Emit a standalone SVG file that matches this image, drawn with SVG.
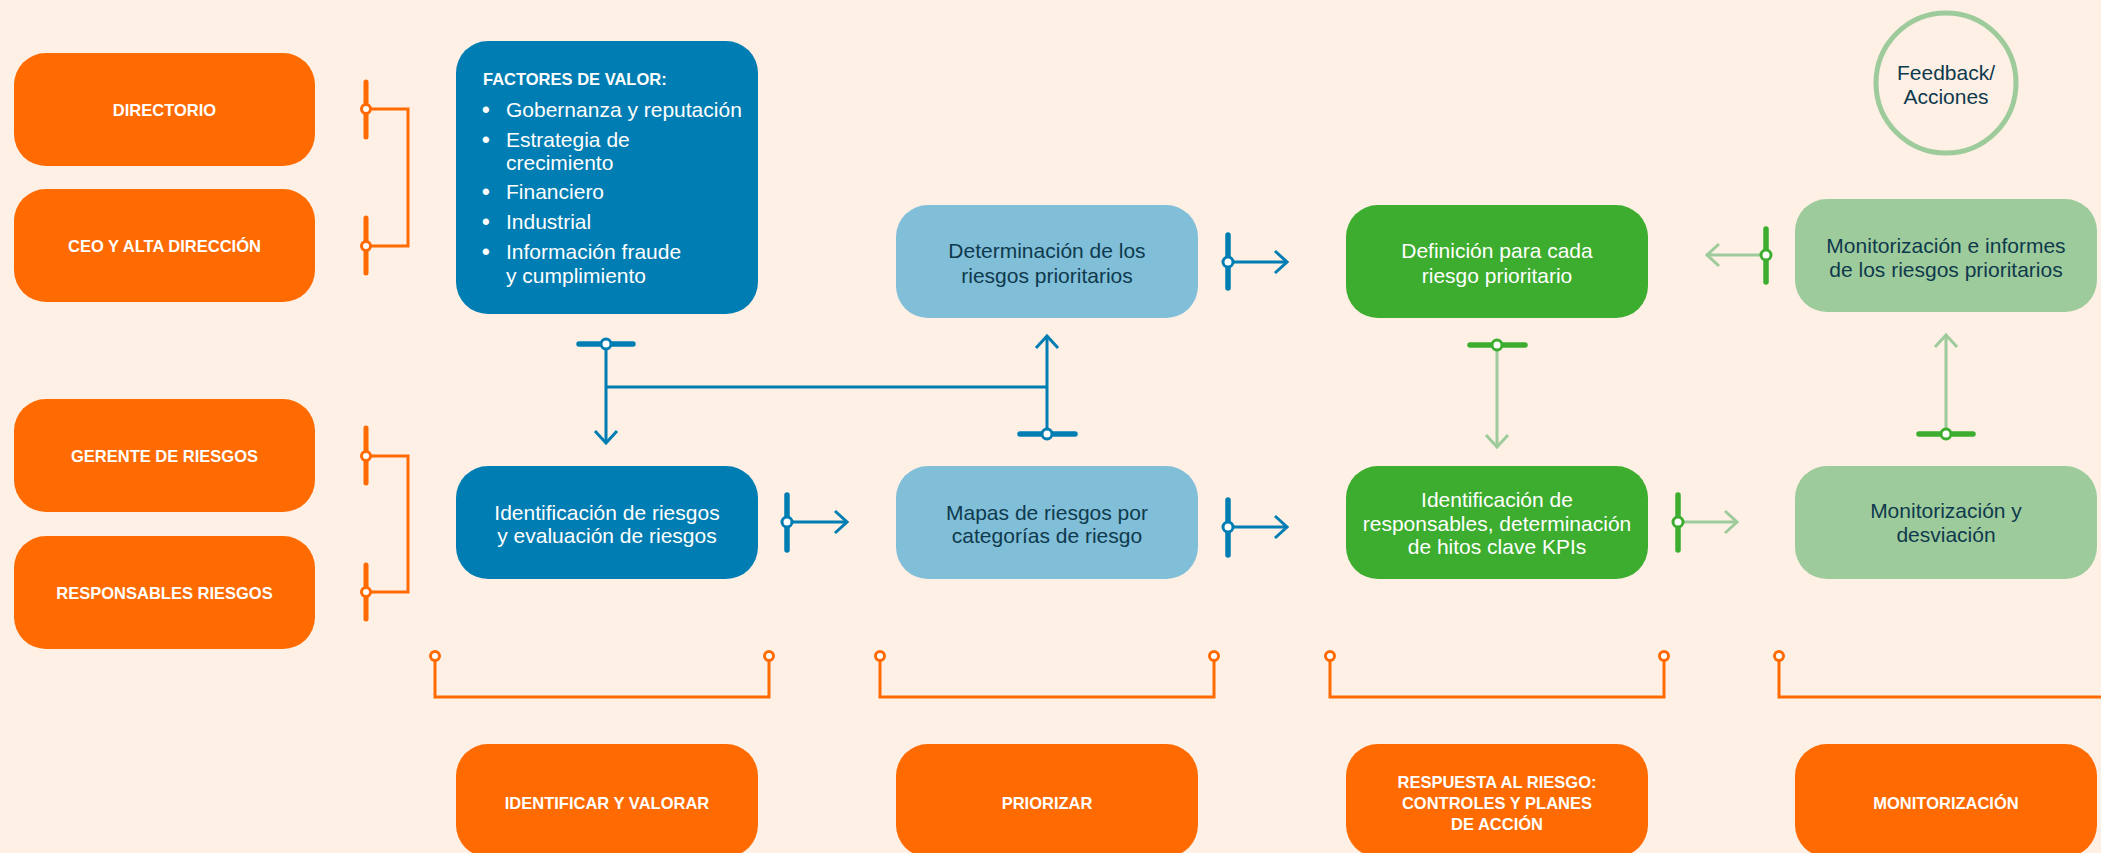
<svg xmlns="http://www.w3.org/2000/svg" width="2101" height="853" viewBox="0 0 2101 853">
<defs>
<style>
.bg{fill:#FEF0E5}
.o{fill:#FF6B00}
.db{fill:#007DB2}
.lb{fill:#81BED8}
.g{fill:#3CAD2E}
.lg{fill:#9ECB9B}
text{font-family:"Liberation Sans",Arial,sans-serif;font-size:21px;text-anchor:middle}
.w{fill:#FFFFFF}
.d{fill:#0E3A4D}
.cap{font-weight:bold;font-size:16.5px}
.st{text-anchor:start}
.bul{font-weight:bold;font-size:22px}
.lnb{stroke:#007DB2;stroke-width:3;fill:none}
.lnl{stroke:#9ECB9B;stroke-width:3;fill:none}
.lno{stroke:#FF6B00;stroke-width:3;fill:none}
.barb{stroke:#007DB2;stroke-width:5.5;stroke-linecap:round;fill:none}
.barg{stroke:#3CAD2E;stroke-width:5.5;stroke-linecap:round;fill:none}
.baro{stroke:#FF6B00;stroke-width:5;stroke-linecap:round;fill:none}
.dotb{fill:#FFFFFF;stroke:#007DB2;stroke-width:3}
.dotg{fill:#FFFFFF;stroke:#3CAD2E;stroke-width:3}
.doto{fill:#FFFFFF;stroke:#FF6B00;stroke-width:3}
</style>
<marker id="chb" markerUnits="userSpaceOnUse" viewBox="-15 -13 17 26" refX="0" refY="0" markerWidth="17" markerHeight="26" orient="auto">
<path d="M-12,-11 L0,0 L-12,11" fill="none" stroke="#007DB2" stroke-width="3"/>
</marker>
<marker id="chl" markerUnits="userSpaceOnUse" viewBox="-15 -13 17 26" refX="0" refY="0" markerWidth="17" markerHeight="26" orient="auto">
<path d="M-12,-11 L0,0 L-12,11" fill="none" stroke="#9ECB9B" stroke-width="3"/>
</marker>
</defs>
<rect class="bg" x="0" y="0" width="2101" height="853"/>

<g id="connectors">
<path class="lno" d="M366 109 H408 V246 H366"/>
<path class="baro" d="M366 82 V137 M366 218 V273"/>
<circle class="doto" cx="366" cy="109" r="4.5"/>
<circle class="doto" cx="366" cy="246" r="4.5"/>
<path class="lno" d="M366 456 H408 V592 H366"/>
<path class="baro" d="M366 428 V483 M366 565 V619"/>
<circle class="doto" cx="366" cy="456" r="4.5"/>
<circle class="doto" cx="366" cy="592" r="4.5"/>
<path class="lnb" d="M606 344 V443" marker-end="url(#chb)"/>
<path class="lnb" d="M606 387 H1047"/>
<path class="lnb" d="M1047 434 V336" marker-end="url(#chb)"/>
<path class="barb" d="M579 344 H633 M1020 434 H1075"/>
<circle class="dotb" cx="606" cy="344" r="5"/>
<circle class="dotb" cx="1047" cy="434" r="5"/>
<path class="lnb" d="M787 522 H847" marker-end="url(#chb)"/>
<path class="barb" d="M787 495 V550"/>
<circle class="dotb" cx="787" cy="522" r="5"/>
<path class="lnb" d="M1228 262 H1287" marker-end="url(#chb)"/>
<path class="barb" d="M1228 235 V288"/>
<circle class="dotb" cx="1228" cy="262" r="5"/>
<path class="lnb" d="M1228 527 H1287" marker-end="url(#chb)"/>
<path class="barb" d="M1228 500 V555"/>
<circle class="dotb" cx="1228" cy="527" r="5"/>
<path class="lnl" d="M1497 345 V447" marker-end="url(#chl)"/>
<path class="barg" d="M1470 345 H1525"/>
<circle class="dotg" cx="1497" cy="345" r="5"/>
<path class="lnl" d="M1678 522 H1737" marker-end="url(#chl)"/>
<path class="barg" d="M1678 495 V550"/>
<circle class="dotg" cx="1678" cy="522" r="5"/>
<path class="lnl" d="M1766 255 H1707" marker-end="url(#chl)"/>
<path class="barg" d="M1766 229 V282"/>
<circle class="dotg" cx="1766" cy="255" r="5"/>
<path class="lnl" d="M1946 434 V335" marker-end="url(#chl)"/>
<path class="barg" d="M1919 434 H1973"/>
<circle class="dotg" cx="1946" cy="434" r="5"/>
<path class="lno" d="M435 661 V697 H769 V661"/>
<circle class="doto" cx="435" cy="656" r="4.5"/>
<circle class="doto" cx="769" cy="656" r="4.5"/>
<path class="lno" d="M880 661 V697 H1214 V661"/>
<circle class="doto" cx="880" cy="656" r="4.5"/>
<circle class="doto" cx="1214" cy="656" r="4.5"/>
<path class="lno" d="M1330 661 V697 H1664 V661"/>
<circle class="doto" cx="1330" cy="656" r="4.5"/>
<circle class="doto" cx="1664" cy="656" r="4.5"/>
<path class="lno" d="M1779 661 V697 H2110"/>
<circle class="doto" cx="1779" cy="656" r="4.5"/>
</g>

<g id="directorio">
<rect class="o" x="14" y="53" width="301" height="113" rx="32"/>
<text class="w cap" x="164.5" y="116">DIRECTORIO</text>
</g>
<g id="ceo">
<rect class="o" x="14" y="189" width="301" height="113" rx="32"/>
<text class="w cap" x="164.5" y="252">CEO Y ALTA DIRECCIÓN</text>
</g>
<g id="gerente">
<rect class="o" x="14" y="399" width="301" height="113" rx="32"/>
<text class="w cap" x="164.5" y="462">GERENTE DE RIESGOS</text>
</g>
<g id="responsables">
<rect class="o" x="14" y="536" width="301" height="113" rx="32"/>
<text class="w cap" x="164.5" y="599">RESPONSABLES RIESGOS</text>
</g>

<g id="factores">
<rect class="db" x="456" y="41" width="302" height="273" rx="32"/>
<text class="w cap st" x="483" y="85">FACTORES DE VALOR:</text>
<text class="w st bul" x="482" y="117">•</text>
<text class="w st" x="506" y="117">Gobernanza y reputación</text>
<text class="w st bul" x="482" y="147">•</text>
<text class="w st" x="506" y="147">Estrategia de</text>
<text class="w st" x="506" y="170">crecimiento</text>
<text class="w st bul" x="482" y="199">•</text>
<text class="w st" x="506" y="199">Financiero</text>
<text class="w st bul" x="482" y="229">•</text>
<text class="w st" x="506" y="229">Industrial</text>
<text class="w st bul" x="482" y="259">•</text>
<text class="w st" x="506" y="259">Información fraude</text>
<text class="w st" x="506" y="283">y cumplimiento</text>
</g>

<g id="identificacion">
<rect class="db" x="456" y="466" width="302" height="113" rx="32"/>
<text class="w" x="607" y="520">Identificación de riesgos</text>
<text class="w" x="607" y="543">y evaluación de riesgos</text>
</g>
<g id="determinacion">
<rect class="lb" x="896" y="205" width="302" height="113" rx="32"/>
<text class="d" x="1047" y="258">Determinación de los</text>
<text class="d" x="1047" y="283">riesgos prioritarios</text>
</g>
<g id="mapas">
<rect class="lb" x="896" y="466" width="302" height="113" rx="32"/>
<text class="d" x="1047" y="520">Mapas de riesgos por</text>
<text class="d" x="1047" y="543">categorías de riesgo</text>
</g>
<g id="definicion">
<rect class="g" x="1346" y="205" width="302" height="113" rx="32"/>
<text class="w" x="1497" y="258">Definición para cada</text>
<text class="w" x="1497" y="283">riesgo prioritario</text>
</g>
<g id="ident-responsables">
<rect class="g" x="1346" y="466" width="302" height="113" rx="32"/>
<text class="w" x="1497" y="507">Identificación de</text>
<text class="w" x="1497" y="531">responsables, determinación</text>
<text class="w" x="1497" y="554">de hitos clave KPIs</text>
</g>
<g id="monitor-informes">
<rect class="lg" x="1795" y="199" width="302" height="113" rx="32"/>
<text class="d" x="1946" y="253">Monitorización e informes</text>
<text class="d" x="1946" y="277">de los riesgos prioritarios</text>
</g>
<g id="monitor-desviacion">
<rect class="lg" x="1795" y="466" width="302" height="113" rx="32"/>
<text class="d" x="1946" y="518">Monitorización y</text>
<text class="d" x="1946" y="542">desviación</text>
</g>
<g id="feedback">
<circle cx="1946" cy="83" r="70" fill="none" stroke="#9ECB9B" stroke-width="5"/>
<text class="d" x="1946" y="80">Feedback/</text>
<text class="d" x="1946" y="104">Acciones</text>
</g>

<g id="identificar-valorar">
<rect class="o" x="456" y="744" width="302" height="113" rx="32"/>
<text class="w cap" x="607" y="809">IDENTIFICAR Y VALORAR</text>
</g>
<g id="priorizar">
<rect class="o" x="896" y="744" width="302" height="113" rx="32"/>
<text class="w cap" x="1047" y="809">PRIORIZAR</text>
</g>
<g id="respuesta">
<rect class="o" x="1346" y="744" width="302" height="113" rx="32"/>
<text class="w cap" x="1497" y="788">RESPUESTA AL RIESGO:</text>
<text class="w cap" x="1497" y="809">CONTROLES Y PLANES</text>
<text class="w cap" x="1497" y="830">DE ACCIÓN</text>
</g>
<g id="monitorizacion">
<rect class="o" x="1795" y="744" width="302" height="113" rx="32"/>
<text class="w cap" x="1946" y="809">MONITORIZACIÓN</text>
</g>
</svg>
